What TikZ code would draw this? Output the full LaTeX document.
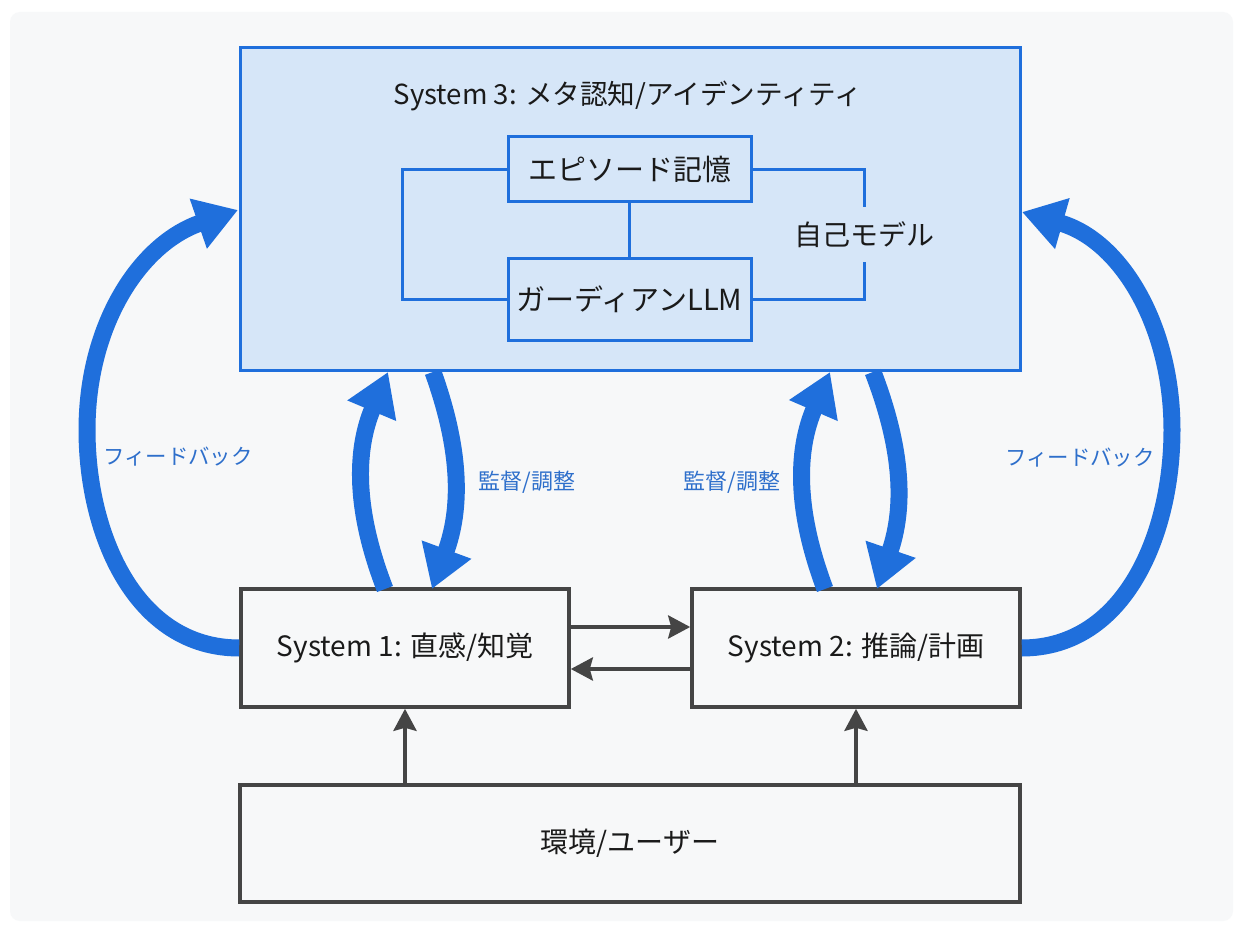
\documentclass[tikz,border=0pt]{standalone}
\usepackage{fontspec}
\setmainfont{Noto Sans CJK JP}
\usetikzlibrary{arrows.meta,calc}
\definecolor{bgc}{HTML}{F7F8F9}
\definecolor{sblue}{HTML}{1F6FDC}
\definecolor{lblue}{HTML}{D6E6F8}
\definecolor{tblue}{HTML}{2E6FCB}
\definecolor{dgray}{HTML}{454545}
\definecolor{txt}{HTML}{1A1A1A}
\tikzset{
  bluebox/.style={draw=sblue, line width=1.5pt, fill=lblue, inner sep=0pt},
  innerbox/.style={draw=sblue, line width=1.5pt, fill=lblue, inner sep=0pt,
    minimum width=121.5pt, text=txt, font=\fontsize{14.5}{17}\selectfont},
  graybox/.style={draw=dgray, line width=1.8pt, inner sep=0pt, text=txt,
    font=\fontsize{14}{17}\selectfont},
  bigarrow/.style={draw=sblue, line width=8.5pt, -{Triangle[length=21pt,width=25pt]}},
  grayarrow/.style={draw=dgray, line width=2pt, -{Stealth[length=11pt,width=11.5pt,inset=1.5pt]}},
  linkline/.style={draw=sblue, line width=1.5pt},
  bluelabel/.style={text=tblue, inner sep=0pt},
}
\begin{document}
\begin{tikzpicture}[x=0.5pt,y=0.5pt]
\useasboundingbox (0,0) rectangle (1243,-931);
\fill[white] (0,0) rectangle (1243,-931);
\fill[bgc, rounded corners=5pt] (10,-12) rectangle (1233,-921);

% System 3
\node[bluebox, minimum width=390pt, minimum height=161pt] (s3) at (630,-209) {};
\node[text=txt, inner sep=0pt, font=\fontsize{13.8}{16}\selectfont] (s3title) at (628,-96) {System 3: メタ認知/アイデンティティ};
\node[innerbox, minimum height=32.5pt] (ep) at (629.5,-169.5) {エピソード記憶};
\node[innerbox, minimum height=41pt] (gd) at (629.5,-299) {ガーディアンLLM};
\node[text=txt, inner sep=0pt, minimum height=27.5pt, font=\fontsize{14}{17}\selectfont] (self) at (864,-234.5) {自己モデル};
\draw[linkline] (ep.south) -- (gd.north);
\draw[linkline] (ep.west) -- ++(-104,0) |- (gd.west);
\draw[linkline] (ep.east) -| (self.north);
\draw[linkline] (gd.east) -| (self.south);

% System 1, 2, environment
\node[graybox, minimum width=164pt, minimum height=59pt] (s1) at (405,-648) {System 1: 直感/知覚};
\node[graybox, minimum width=164pt, minimum height=59pt] (s2) at (856,-648) {System 2: 推論/計画};
\node[graybox, minimum width=390pt, minimum height=58.5pt] (env) at (630,-843.5) {環境/ユーザー};

\draw[grayarrow] ([yshift=10.5pt]s1.east) -- ([yshift=10.5pt]s2.west);
\draw[grayarrow] ([yshift=-10.5pt]s2.west) -- ([yshift=-10.5pt]s1.east);
\draw[grayarrow] (env.north -| s1.south) -- (s1.south);
\draw[grayarrow] (env.north -| s2.south) -- (s2.south);

% feedback arrows
\coordinate (fbL) at (238,-210);
\coordinate (fbR) at (1022,-212);
\draw[bigarrow] (s1.west) to[out=180,in=270] (87,-430) to[out=90,in=199] (fbL);
\draw[bigarrow] (s2.east) to[out=0,in=270] (1172,-430) to[out=90,in=-16] (fbR);
\node[bluelabel, font=\fontsize{10.7}{13}\selectfont] (fbLl) at (178,-457) {フィードバック};
\node[bluelabel, font=\fontsize{10.7}{13}\selectfont] (fbRl) at (1080,-458) {フィードバック};

% supervision arrows
\coordinate (u1s) at (385,-589);
\coordinate (u1e) at (388,-372);
\coordinate (d1s) at (433,-372);
\coordinate (d1e) at (432,-589);
\coordinate (u2s) at (825,-589);
\coordinate (u2e) at (830,-372);
\coordinate (d2s) at (873,-372);
\coordinate (d2e) at (877,-589);
\draw[bigarrow] (u1s) to[bend left=22] (u1e);
\draw[bigarrow] (d1s) to[bend left=20] (d1e);
\draw[bigarrow] (u2s) to[bend left=22] (u2e);
\draw[bigarrow] (d2s) to[bend left=20] (d2e);
\node[bluelabel, font=\fontsize{11}{13}\selectfont] (sup1) at (527,-482) {監督/調整};
\node[bluelabel, font=\fontsize{11}{13}\selectfont] (sup2) at (732,-482) {監督/調整};
\end{tikzpicture}
\end{document}
